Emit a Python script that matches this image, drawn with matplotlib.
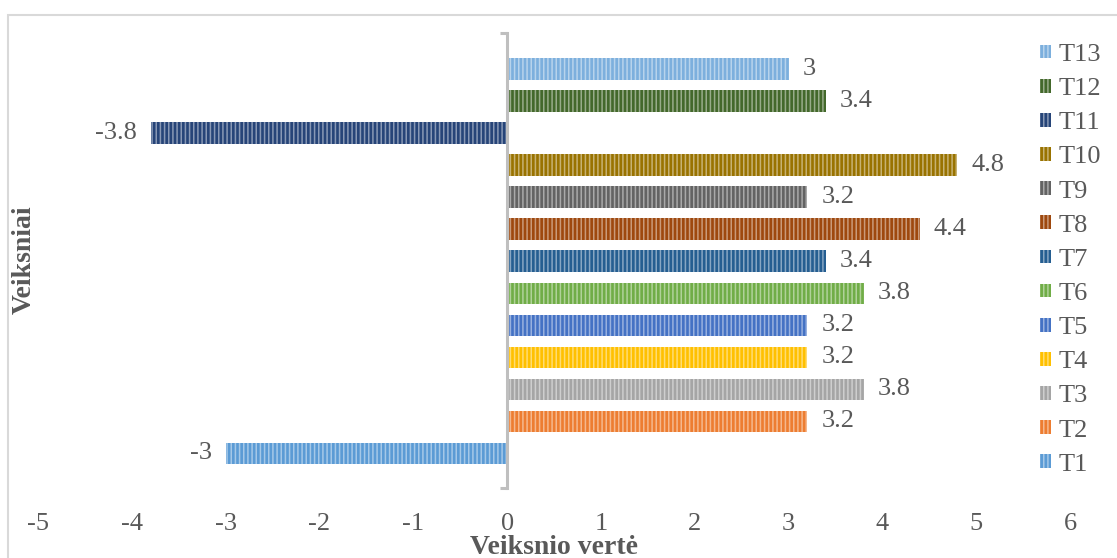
import matplotlib
matplotlib.use("Agg")
import matplotlib.pyplot as plt
from matplotlib.patches import Rectangle
from matplotlib import colors as mcolors
import numpy as np

series = ["T1", "T2", "T3", "T4", "T5", "T6", "T7", "T8", "T9", "T10", "T11", "T12", "T13"]
values = [-3, 3.2, 3.8, 3.2, 3.2, 3.8, 3.4, 4.4, 3.2, 4.8, -3.8, 3.4, 3]
bar_colors = ["#5B9BD5", "#ED7D31", "#A5A5A5", "#FFC000", "#4472C4", "#70AD47",
              "#255E91", "#9E480E", "#636363", "#997300", "#264478", "#43682B", "#7CAFDD"]
x_ticks = [-5, -4, -3, -2, -1, 0, 1, 2, 3, 4, 5, 6]

plt.rcParams['font.family'] = ['Liberation Serif', 'DejaVu Serif']
plt.rcParams['hatch.linewidth'] = 1.1
TXT = "#595959"
FS = 19

W, H = 1117, 558
fig = plt.figure(figsize=(W / 100, H / 100), dpi=100)
ax = fig.add_axes([38 / W, 1 - 488 / H, (1070 - 38) / W, (488 - 33) / H])


def lighten(c, f=0.5):
    r, g, b = mcolors.to_rgb(c)
    return (r + (1 - r) * f, g + (1 - g) * f, b + (1 - b) * f)


handles = []
for i, (name, v, c) in enumerate(zip(series, values, bar_colors)):
    bc = ax.barh(i, v, height=0.67, color=c, edgecolor=lighten(c, 0.45),
                 linewidth=0, hatch='||||', label=name, zorder=2)
    ax.bar_label(bc, labels=[f"{v:g}"], padding=10, fontsize=FS, color=TXT)
    handles.append(bc)

ax.set_xlim(-5, 6)
ax.set_ylim(-1.077, 13.12)
ax.set_xticks(x_ticks)
ax.set_xticklabels([f"{t:g}" for t in x_ticks], fontsize=FS, color=TXT)
ax.tick_params(axis='x', length=0, pad=18)

for s in ['top', 'right', 'bottom']:
    ax.spines[s].set_visible(False)
ax.spines['left'].set_position(('data', 0))
ax.spines['left'].set_color('#BFBFBF')
ax.spines['left'].set_linewidth(2.2)
ax.spines['left'].set_zorder(3)
ax.set_yticks([-1.077, 13.12])
ax.set_yticklabels([])
ax.tick_params(axis='y', direction='out', length=5, width=2.2, color='#BFBFBF')

ax.set_xlabel("Veiksnio vertė", fontsize=20, fontweight='bold', color=TXT, labelpad=0)
fig.text(24 / W, 1 - 260 / H, "Veiksniai", rotation=90, ha='center', va='center',
         fontsize=20, fontweight='bold', color=TXT)

leg = fig.legend(handles[::-1], series[::-1], loc='upper left',
                 bbox_to_anchor=(1040 / W, 1 - 44 / H), frameon=False,
                 fontsize=FS, labelcolor=TXT, handlelength=0.42, handleheight=0.42,
                 handletextpad=0.3, labelspacing=0.46, borderaxespad=0, borderpad=0)

fig.patches.append(Rectangle((8 / W, -0.1), 1.1, 1 - 15 / H + 0.1, transform=fig.transFigure,
                             fill=False, edgecolor='#D9D9D9', linewidth=1.5))

fig.savefig("out.png", dpi=100)
